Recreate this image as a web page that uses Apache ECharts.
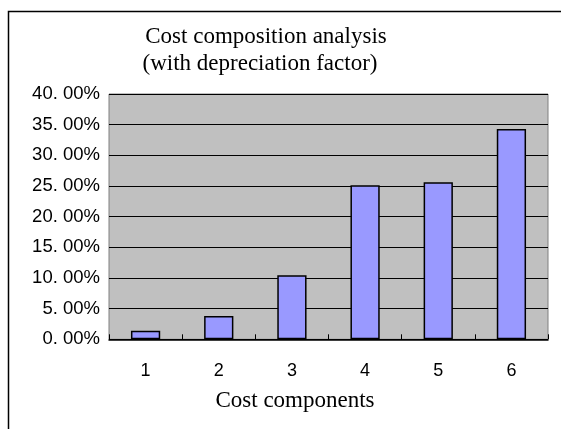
<!DOCTYPE html>
<html><head><meta charset="utf-8">
<script src="https://cdn.jsdelivr.net/npm/echarts@6/dist/echarts.min.js"></script>
<style>html,body{margin:0;padding:0;background:#fff}#c{width:561px;height:429px}</style>
</head><body><div id="c"></div>
<script>
const categories = ['1','2','3','4','5','6'];
const values = [1.4, 3.8, 10.45, 25.1, 25.6, 34.3];
const titleLines = ['Cost composition analysis', '(with depreciation factor)'];
const xAxisName = 'Cost components';

const serif = '"Liberation Serif", "Times New Roman", serif';
const chart = echarts.init(document.getElementById('c'), null, {renderer:'canvas'});
chart.setOption({
  animation:false,
  backgroundColor:'#fff',
  graphic:[
    {type:'rect', shape:{x:8.5,y:11.5,width:600,height:500}, style:{fill:null, stroke:'#000', lineWidth:1.5}, z:0},
    {type:'text', x:266, y:37, style:{text:titleLines[0], font:'23px ' + serif, fill:'#000', align:'center', verticalAlign:'middle'}, z:10},
    {type:'text', x:260, y:64, style:{text:titleLines[1], font:'23px ' + serif, fill:'#000', align:'center', verticalAlign:'middle'}, z:10},
    {type:'text', x:295, y:401, style:{text:xAxisName, font:'23px ' + serif, fill:'#000', align:'center', verticalAlign:'middle'}, z:10}
  ],
  grid:{left:109, top:94, width:439, height:245.3, show:true, backgroundColor:'#c0c0c0', borderColor:'#808080', borderWidth:1},
  xAxis:{
    type:'category', data:categories,
    axisLine:{show:true, lineStyle:{color:'#000', width:1.5}},
    axisTick:{show:true, inside:true, length:5, alignWithLabel:false, lineStyle:{color:'#000'}},
    axisLabel:{color:'#000', fontSize:18, fontFamily:'"Liberation Sans", Arial, sans-serif', margin:23},
    splitLine:{show:false}
  },
  yAxis:{
    type:'value', min:0, max:40, interval:5,
    axisLine:{show:false},
    axisTick:{show:true, inside:true, length:5, lineStyle:{color:'#000'}},
    axisLabel:{color:'#000', fontSize:18.5, fontFamily:'"Liberation Sans", Arial, sans-serif', margin:9,
      formatter:v=>v.toFixed(2).replace('.', '. ')+'%'},
    splitLine:{show:true, lineStyle:{color:'#000', width:1}}
  },
  series:[{
    type:'bar', data:values, barWidth:'40%',
    itemStyle:{color:'#9999ff', borderColor:'#000', borderWidth:1.5}
  }]
});
</script></body></html>
